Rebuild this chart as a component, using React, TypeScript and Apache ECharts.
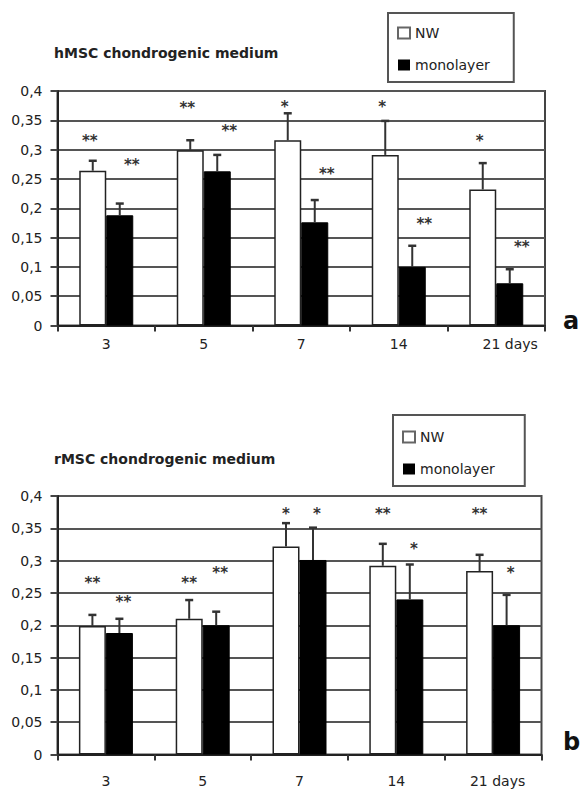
import React, { useEffect, useRef } from 'react';
import * as echarts from 'echarts';

// ---------- data ----------
const categories = ['3', '5', '7', '14', '21 days'];
const seriesNames = ['NW', 'monolayer'];
const titles = ['hMSC chondrogenic medium', 'rMSC chondrogenic medium'];
const panelLetters = ['a', 'b'];

const Y_MIN = 0;
const Y_MAX = 0.4;
const Y_STEP = 0.05;

// panel a (hMSC)
const hNW = [0.264, 0.299, 0.316, 0.291, 0.232];
const hNWErrTop = [0.281, 0.316, 0.362, 0.349, 0.277];
const hMono = [0.188, 0.263, 0.176, 0.1, 0.072];
const hMonoErrTop = [0.208, 0.291, 0.214, 0.136, 0.096];
const hNWStars = ['**', '**', '*', '*', '*'];
const hNWStarY = [0.319, 0.376, 0.378, 0.378, 0.319];
const hMonoStars = ['**', '**', '**', '**', '**'];
const hMonoStarY = [0.279, 0.337, 0.264, 0.178, 0.139];

// panel b (rMSC)
const rNW = [0.199, 0.21, 0.322, 0.292, 0.284];
const rNWErrTop = [0.216, 0.239, 0.358, 0.326, 0.309];
const rMono = [0.188, 0.2, 0.301, 0.24, 0.2];
const rMonoErrTop = [0.21, 0.221, 0.351, 0.294, 0.247];
const rNWStars = ['**', '**', '*', '**', '**'];
const rNWStarY = [0.27, 0.27, 0.377, 0.377, 0.377];
const rMonoStars = ['**', '**', '*', '*', '*'];
const rMonoStarY = [0.241, 0.285, 0.377, 0.323, 0.285];

// ---------- style ----------
const FONT = '"DejaVu Sans", "Liberation Sans", sans-serif';
const BAR_W = 27;
const TEXT = '#222';

function errSeries(g: number, vals: number[], tops: number[], side: number) {
  return {
    type: 'custom',
    xAxisIndex: g,
    yAxisIndex: g,
    z: 5,
    silent: true,
    encode: { x: 0, y: [1, 2] },
    data: vals.map((v, i) => [i, v, tops[i]]),
    renderItem: (_params: any, api: any) => {
      const i = api.value(0);
      const b = api.coord([i, api.value(1)]);
      const t = api.coord([i, api.value(2)]);
      const x = b[0] + (side * BAR_W) / 2;
      const st = { stroke: '#333', lineWidth: 2 };
      return {
        type: 'group',
        children: [
          { type: 'line', shape: { x1: x, y1: b[1], x2: x, y2: t[1] }, style: st },
          { type: 'line', shape: { x1: x - 4, y1: t[1], x2: x + 4, y2: t[1] }, style: { stroke: '#333', lineWidth: 2.5 } },
        ],
      };
    },
  };
}

function starSeries(g: number, ys: number[], stars: string[], side: number, dx: number) {
  return {
    type: 'custom',
    xAxisIndex: g,
    yAxisIndex: g,
    z: 6,
    silent: true,
    encode: { x: 0, y: 1 },
    data: ys.map((y, i) => [i, y]),
    renderItem: (params: any, api: any) => {
      const p = api.coord([api.value(0), api.value(1)]);
      return {
        type: 'text',
        x: p[0] + (side * BAR_W) / 2 + dx,
        y: p[1] + 3,
        style: {
          text: stars[params.dataIndex],
          fill: '#333',
          font: `bold 15px ${FONT}`,
          align: 'center',
          verticalAlign: 'middle',
        },
      };
    },
  };
}

function barSeries(g: number, name: string, vals: number[], nw: boolean) {
  return {
    type: 'bar',
    name,
    xAxisIndex: g,
    yAxisIndex: g,
    barWidth: BAR_W,
    barGap: '0%',
    z: 2,
    data: vals,
    itemStyle: nw
      ? { color: '#ffffff', borderColor: '#222', borderWidth: 1.5 }
      : { color: '#000000', borderColor: '#000', borderWidth: 1 },
  };
}

const yFmt = (v: number) => String(Number(v.toFixed(2))).replace('.', ',');

function xAxis(g: number, margin: number, daysPad: number) {
  return {
    type: 'category',
    gridIndex: g,
    data: categories,
    axisLine: { lineStyle: { color: '#222', width: 2 } },
    axisTick: { show: true, length: 6, lineStyle: { color: '#333', width: 2 } },
    splitLine: { show: false },
    axisLabel: {
      interval: 0,
      margin,
      fontFamily: FONT,
      fontSize: 14,
      color: TEXT,
      formatter: (v: string) => (v.indexOf('days') >= 0 ? `{d|${v}}` : v),
      rich: {
        d: { fontFamily: FONT, fontSize: 14, color: TEXT, padding: [0, 0, 0, daysPad] },
      },
    },
  };
}

function yAxis(g: number) {
  return {
    type: 'value',
    gridIndex: g,
    min: Y_MIN,
    max: Y_MAX,
    interval: Y_STEP,
    axisLine: { show: true, lineStyle: { color: '#222', width: 2 } },
    axisTick: { show: true, length: 7, lineStyle: { color: '#444', width: 2 } },
    axisLabel: { margin: 15, fontFamily: FONT, fontSize: 14, color: TEXT, formatter: yFmt },
    splitLine: { show: true, lineStyle: { color: '#555', width: 2 } },
  };
}

function legend(left: number, top: number, padding: number[]) {
  return {
    orient: 'vertical',
    left,
    top,
    padding,
    itemWidth: 12,
    itemHeight: 11,
    itemGap: 18,
    borderColor: '#555',
    borderWidth: 2,
    selectedMode: false,
    textStyle: { fontFamily: FONT, fontSize: 14, color: TEXT },
    data: [
      { name: seriesNames[0], icon: 'rect', itemStyle: { color: '#fff', borderColor: '#666', borderWidth: 2 } },
      { name: seriesNames[1], icon: 'rect', itemStyle: { color: '#000', borderColor: '#000', borderWidth: 0 } },
    ],
  };
}

export default function App() {
  const ref = useRef<HTMLDivElement>(null);
  useEffect(() => {
    if (!ref.current) return;
    const chart = echarts.init(ref.current, undefined, { renderer: 'svg' });
    chart.setOption({
      animation: false,
      backgroundColor: '#ffffff',
      title: [
        { text: titles[0], left: 54, top: 46, padding: 0, textStyle: { fontFamily: FONT, fontSize: 14, fontWeight: 'bold', color: TEXT } },
        { text: titles[1], left: 54, top: 452, padding: 0, textStyle: { fontFamily: FONT, fontSize: 14, fontWeight: 'bold', color: TEXT } },
      ],
      legend: [legend(388, 13, [13, 24, 10, 9]), legend(393, 415, [15, 30, 10, 9])],
      grid: [
        { left: 57.5, top: 91, width: 487.5, height: 234.5, show: true, borderColor: '#444', borderWidth: 2 },
        { left: 57.5, top: 496, width: 484, height: 258.5, show: true, borderColor: '#444', borderWidth: 2 },
      ],
      xAxis: [xAxis(0, 11, 28), xAxis(1, 19, 9)],
      yAxis: [yAxis(0), yAxis(1)],
      graphic: [
        { type: 'text', left: 563, top: 309, style: { text: panelLetters[0], font: `bold 24px ${FONT}`, fill: '#111' } },
        { type: 'text', left: 563, top: 730, style: { text: panelLetters[1], font: `bold 24px ${FONT}`, fill: '#111' } },
      ],
      series: [
        barSeries(0, seriesNames[0], hNW, true),
        barSeries(0, seriesNames[1], hMono, false),
        errSeries(0, hNW, hNWErrTop, -1),
        errSeries(0, hMono, hMonoErrTop, 1),
        starSeries(0, hNWStarY, hNWStars, -1, -3),
        starSeries(0, hMonoStarY, hMonoStars, 1, 12),
        barSeries(1, seriesNames[0], rNW, true),
        barSeries(1, seriesNames[1], rMono, false),
        errSeries(1, rNW, rNWErrTop, -1),
        errSeries(1, rMono, rMonoErrTop, 1),
        starSeries(1, rNWStarY, rNWStars, -1, 0),
        starSeries(1, rMonoStarY, rMonoStars, 1, 4),
      ],
    });
    return () => chart.dispose();
  }, []);
  return (
    <div
      ref={ref}
      style={{ position: 'fixed', left: 0, top: 0, width: 583, height: 790, background: '#fff' }}
    />
  );
}
